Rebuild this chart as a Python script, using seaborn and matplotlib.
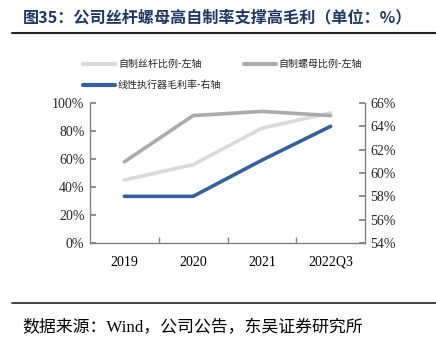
import matplotlib
matplotlib.use("Agg")
import matplotlib.pyplot as plt
import seaborn as sns
import pandas as pd
from matplotlib.ticker import FuncFormatter, MultipleLocator
from matplotlib.lines import Line2D

categories = ["2019", "2020", "2021", "2022Q3"]
screw_ratio = [45, 56, 82, 93]      # 自制丝杆比例-左轴
nut_ratio = [58, 91, 94, 91]        # 自制螺母比例-左轴
gross_margin = [58.0, 58.0, 61.1, 64.0]  # 线性执行器毛利率-右轴

sns.set_theme(style="white")
plt.rcParams["font.family"] = ["Liberation Serif", "Noto Sans CJK SC", "DejaVu Sans"]

c_light = "#D9D9D9"
c_dark = "#ABABAB"
c_blue = "#35609A"

fig = plt.figure(figsize=(4.36, 3.42), dpi=100)
ax = fig.add_axes([90/436, 1-243/342, (365-90)/436, 140/342])

df = pd.DataFrame({"x": categories, "screw": screw_ratio, "nut": nut_ratio, "gm": gross_margin})
sns.lineplot(data=df, x="x", y="screw", ax=ax, color=c_light, lw=2.6, sort=False)
sns.lineplot(data=df, x="x", y="nut", ax=ax, color=c_dark, lw=2.6, sort=False)
ax2 = ax.twinx()
sns.lineplot(data=df, x="x", y="gm", ax=ax2, color=c_blue, lw=2.6, sort=False)

ax.set_xlim(-0.5, 3.5)
ax.set_ylim(0, 100)
ax2.set_ylim(54, 66)
ax.yaxis.set_major_locator(MultipleLocator(20))
ax2.yaxis.set_major_locator(MultipleLocator(2))
ax.yaxis.set_major_formatter(FuncFormatter(lambda v, p: f"{v:.0f}%"))
ax2.yaxis.set_major_formatter(FuncFormatter(lambda v, p: f"{v:.0f}%"))
ax.set_xlabel(""); ax.set_ylabel(""); ax2.set_xlabel(""); ax2.set_ylabel("")

ax.set_xticks(range(len(categories)))
ax.set_xticklabels(categories)
ax.set_xticks([0.5, 1.5, 2.5], minor=True)
ax.tick_params(axis="x", which="major", length=0, labelsize=10, pad=9, colors="black")
ax.tick_params(axis="x", which="minor", length=4, direction="in", color="#808080", bottom=True)
ax.tick_params(axis="y", direction="in", length=4, color="#808080", labelsize=10, left=True, pad=4)
ax2.tick_params(axis="y", direction="in", length=4, color="#808080", labelsize=10, right=True, pad=4)

for a in (ax, ax2):
    for s in a.spines.values():
        s.set_visible(False)
    a.grid(False)
for s in ("left", "bottom"):
    ax.spines[s].set_visible(True)
    ax.spines[s].set_color("#808080")
    ax.spines[s].set_linewidth(1)
ax2.spines["right"].set_visible(True)
ax2.spines["right"].set_color("#808080")
ax2.spines["right"].set_linewidth(1)

handles = [Line2D([], [], color=c_light, lw=3), Line2D([], [], color=c_blue, lw=3), Line2D([], [], color=c_dark, lw=3)]
labels = ["自制丝杆比例-左轴", "线性执行器毛利率-右轴", "自制螺母比例-左轴"]
fig.legend(handles, labels, ncol=2, loc="upper left", bbox_to_anchor=(74/436, 1-50/342),
           frameon=False, prop={"family": ["Noto Sans CJK SC"], "size": 7.2},
           handlelength=3.2, columnspacing=2.2, labelspacing=1.1, handletextpad=0.3)

fig.text(23/436, 1-17/342, "图35：公司丝杆螺母高自制率支撑高毛利（单位：%）",
         fontsize=11.6, fontweight="bold", color="#1F3864", va="center",
         family=["Noto Sans CJK SC"])
fig.add_artist(Line2D([12/436, 1.0], [1-33/342, 1-33/342], color="#222222", lw=1.5, transform=fig.transFigure))
fig.add_artist(Line2D([12/436, 1.0], [1-303/342, 1-303/342], color="#222222", lw=1.2, transform=fig.transFigure))
fig.text(22/436, 1-328/342, "数据来源：Wind，公司公告，东吴证券研究所", fontsize=12.2, color="black", va="center",
         family=["Liberation Serif", "Noto Sans CJK SC"])

fig.savefig("out.png", dpi=100)
